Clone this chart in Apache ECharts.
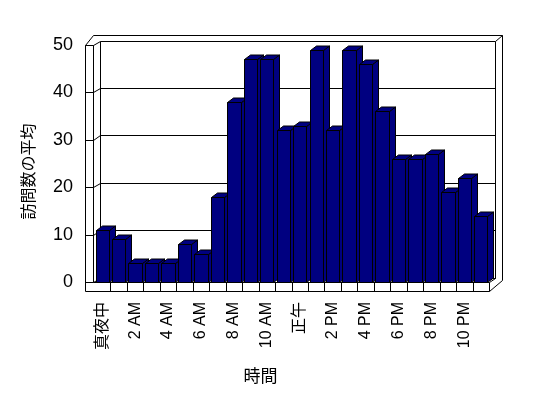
<!DOCTYPE html>
<html>
<head>
<meta charset="utf-8">
<script src="https://cdn.jsdelivr.net/npm/echarts@6/dist/echarts.min.js"></script>
<style>html,body{margin:0;padding:0;background:#fff;}#c{width:548px;height:398px;}</style>
</head>
<body>
<div id="c"></div>
<script>
const hours = ['真夜中','1 AM','2 AM','3 AM','4 AM','5 AM','6 AM','7 AM','8 AM','9 AM','10 AM','11 AM',
               '正午','1 PM','2 PM','3 PM','4 PM','5 PM','6 PM','7 PM','8 PM','9 PM','10 PM','11 PM'];
const visits = [11, 9, 4, 4, 4, 8, 6, 18, 38, 47, 47, 32, 33, 49, 32, 49, 46, 36, 26, 26, 27, 19, 22, 14];
const yTicks = [0, 10, 20, 30, 40, 50];
const yTitle = '訪問数の平均';
const xTitle = '時間';

const DX = 6, DY = -4.5;       // depth offset of the back plane
const NAVY = '#000080';
const p = v => Math.round(v) + 0.5;
const ls = {stroke: '#000', lineWidth: 1, fill: null};

const chart = echarts.init(document.getElementById('c'), null, {renderer: 'canvas'});

function line(x1, y1, x2, y2) {
  return {type: 'line', shape: {x1: p(x1), y1: p(y1), x2: p(x2), y2: p(y2)}, style: ls, silent: true};
}

function renderFrame(params, api) {
  const cs = params.coordSys;
  const L = cs.x, T = cs.y, R = cs.x + cs.width, B = cs.y + cs.height;
  const band = cs.width / hours.length;
  const lw0 = L - 9, lw1 = L - 1;
  const bx0 = L + DX, bx1 = R + DX, by0 = T + DY, by1 = B + DY;
  const ro = bx1 + 6.5, to = by0 - 6;
  const FH = 9;
  const ch = [];
  ch.push({type: 'rect', shape: {x: lw0, y: T, width: lw1 - lw0, height: B + FH - T}, style: {fill: '#fff'}});
  ch.push(line(lw0, T, lw1, T));
  ch.push(line(lw0, T, lw1, to));
  ch.push(line(lw1, to, ro, to));
  ch.push(line(lw0, T, lw0, B + FH));
  ch.push(line(lw1, T, lw1, B));
  ch.push(line(bx0, by0, bx0, by1));
  ch.push(line(bx1, by0, bx1, by1));
  ch.push(line(bx1, by0, ro, to));
  ch.push(line(ro, to, ro, B + FH - 11));
  ch.push(line(bx0, by1, bx1, by1));
  yTicks.forEach(v => {
    const fy = api.coord([0, v])[1];
    ch.push(line(lw0, fy, lw1, fy));
    ch.push(line(lw1, fy, bx0, fy + DY));
    ch.push(line(bx0, fy + DY, bx1, fy + DY));
  });
  ch.push(line(lw1, B, R, B));
  ch.push(line(lw0, B + FH, R, B + FH));
  for (let k = 1; k <= hours.length; k++) {
    const x = L + k * band;
    ch.push(line(x, B, x, B + FH));
  }
  ch.push(line(R, B + FH, ro, B + FH - 11));
  ch.push(line(R, B, bx1, by1));
  return {type: 'group', children: ch};
}

function renderBar(params, api) {
  const i = api.value(0), v = api.value(1);
  const top = api.coord([i, v]);
  const base = api.coord([i, 0]);
  const bw = api.size([1, 0])[0] * 0.81;
  const xl = Math.round(top[0] - bw / 2) + 0.5, xr = Math.round(top[0] + bw / 2) + 0.5;
  const yt = Math.round(top[1]) + 0.5, yb = Math.round(base[1]) + 0.5;
  const st = {fill: NAVY, stroke: '#000', lineWidth: 1};
  return {
    type: 'group',
    children: [
      {type: 'polygon', shape: {points: [[xr, yt], [xr + DX, yt + DY], [xr + DX, yb + DY], [xr, yb]]}, style: st},
      {type: 'polygon', shape: {points: [[xl, yt], [xr, yt], [xr + DX, yt + DY], [xl + DX, yt + DY]]}, style: st},
      {type: 'rect', shape: {x: xl, y: yt, width: xr - xl, height: yb - yt}, style: st}
    ]
  };
}

chart.setOption({
  backgroundColor: '#fff',
  animation: false,
  grid: {left: 94, top: 45, width: 395, height: 237},
  xAxis: {
    type: 'category',
    data: hours,
    boundaryGap: true,
    axisLine: {show: false},
    axisTick: {show: false},
    axisLabel: {
      interval: 1, rotate: 90, margin: 20,
      fontFamily: 'Liberation Sans, Noto Sans CJK JP, sans-serif', fontSize: 16, color: '#000'
    },
    name: xTitle, nameLocation: 'middle', nameGap: 85,
    nameTextStyle: {fontFamily: 'Noto Sans CJK JP, sans-serif', fontSize: 17, color: '#000', padding: [0, 62, 0, 0]}
  },
  yAxis: {
    type: 'value', min: 0, max: 50, interval: 10,
    axisLine: {show: false}, axisTick: {show: false}, splitLine: {show: false},
    axisLabel: {margin: 21, fontFamily: 'Liberation Sans, sans-serif', fontSize: 18, color: '#000'},
    name: yTitle, nameLocation: 'middle', nameGap: 58,
    nameTextStyle: {fontFamily: 'Noto Sans CJK JP, sans-serif', fontSize: 16, color: '#000', padding: [0, 16, 0, 0]}
  },
  series: [
    {type: 'custom', renderItem: renderFrame, data: [[0, 0]], z: 1, clip: false, silent: true},
    {type: 'custom', renderItem: renderBar, data: visits.map((v, i) => [i, v]),
     encode: {x: 0, y: 1}, z: 2, clip: false}
  ]
});
</script>
</body>
</html>
